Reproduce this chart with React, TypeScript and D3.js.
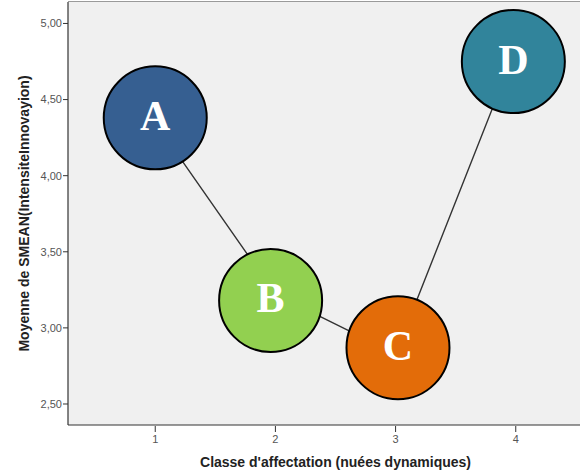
import * as d3 from 'd3'

// Mean values per cluster (data line)
const CLASSES = [1, 2, 3, 4]
const MEANS = [4.35, 3.22, 2.83, 4.83]

// Bubble labels, placed in data units (annotation layer)
const LABELS = ['A', 'B', 'C', 'D']
const LABEL_X = [1.0, 1.96, 3.02, 3.98]
const LABEL_Y = [4.38, 3.18, 2.87, 4.75]
const LABEL_COLORS = ['#365F91', '#92D050', '#E36C09', '#31849B']

const Y_TICKS = [2.5, 3.0, 3.5, 4.0, 4.5, 5.0]

const WIDTH = 580
const HEIGHT = 473
const margin = { top: 2, right: -23, bottom: 48, left: 68 }

export default function App() {
  const innerW = WIDTH - margin.left - margin.right
  const innerH = HEIGHT - margin.top - margin.bottom

  const x = d3.scaleLinear().domain([0.274, 4.726]).range([0, innerW])
  const y = d3.scaleLinear().domain([2.362, 5.141]).range([innerH, 0])

  const line = d3.line<number>()
    .x((_, i) => x(CLASSES[i]))
    .y(d => y(d))

  const r = 51.5
  const fmt = (v: number) => v.toFixed(2).replace('.', ',')

  return (
    <div style={{ position: 'absolute', left: 0, top: 0 }}>
      <svg width={WIDTH} height={HEIGHT} style={{ display: 'block', fontFamily: 'Arial, "Liberation Sans", sans-serif' }}>
        <rect x={0} y={0} width={WIDTH} height={HEIGHT} fill="#fff" />
        <g transform={`translate(${margin.left},${margin.top})`}>
          <rect x={0} y={0} width={innerW} height={innerH} fill="#F0F0F0" />
          <line x1={0} x2={innerW} y1={-0.5} y2={-0.5} stroke="#9a9a9a" strokeWidth={1} />
          <line x1={0} x2={0} y1={0} y2={innerH} stroke="#333" strokeWidth={1.2} />
          <line x1={0} x2={innerW} y1={innerH} y2={innerH} stroke="#333" strokeWidth={1.2} />

          {Y_TICKS.map(t => (
            <g key={t} transform={`translate(0,${y(t)})`}>
              <line x1={-5} x2={0} stroke="#333" strokeWidth={1} />
              <text x={-6} dy="0.35em" textAnchor="end" fontSize={11} fill="#555">{fmt(t)}</text>
            </g>
          ))}

          {CLASSES.map(c => (
            <g key={c} transform={`translate(${x(c)},${innerH})`}>
              <line y1={1} y2={7} stroke="#333" strokeWidth={1} />
              <text y={18} textAnchor="middle" fontSize={11} fill="#555">{c}</text>
            </g>
          ))}

          <path d={line(MEANS) ?? ''} fill="none" stroke="#333" strokeWidth={1.4} />

          {LABELS.map((l, i) => (
            <g key={l} transform={`translate(${x(LABEL_X[i])},${y(LABEL_Y[i])})`}>
              <circle r={r} fill={LABEL_COLORS[i]} stroke="#000" strokeWidth={2} />
              <text y={12} textAnchor="middle" fontSize={42} fontWeight="bold"
                fontFamily='"Liberation Serif", "DejaVu Serif", serif' fill="#fff">{l}</text>
            </g>
          ))}

          <text x={267.5} y={innerH + 42} textAnchor="middle" fontSize={14} fontWeight="bold" fill="#222">
            Classe d'affectation (nuées dynamiques)
          </text>
          <text transform={`translate(-39,${innerH / 2}) rotate(-90)`} textAnchor="middle" fontSize={14}
            fontWeight="bold" fill="#222">
            Moyenne de SMEAN(IntensiteInnovayion)
          </text>
        </g>
      </svg>
    </div>
  )
}
